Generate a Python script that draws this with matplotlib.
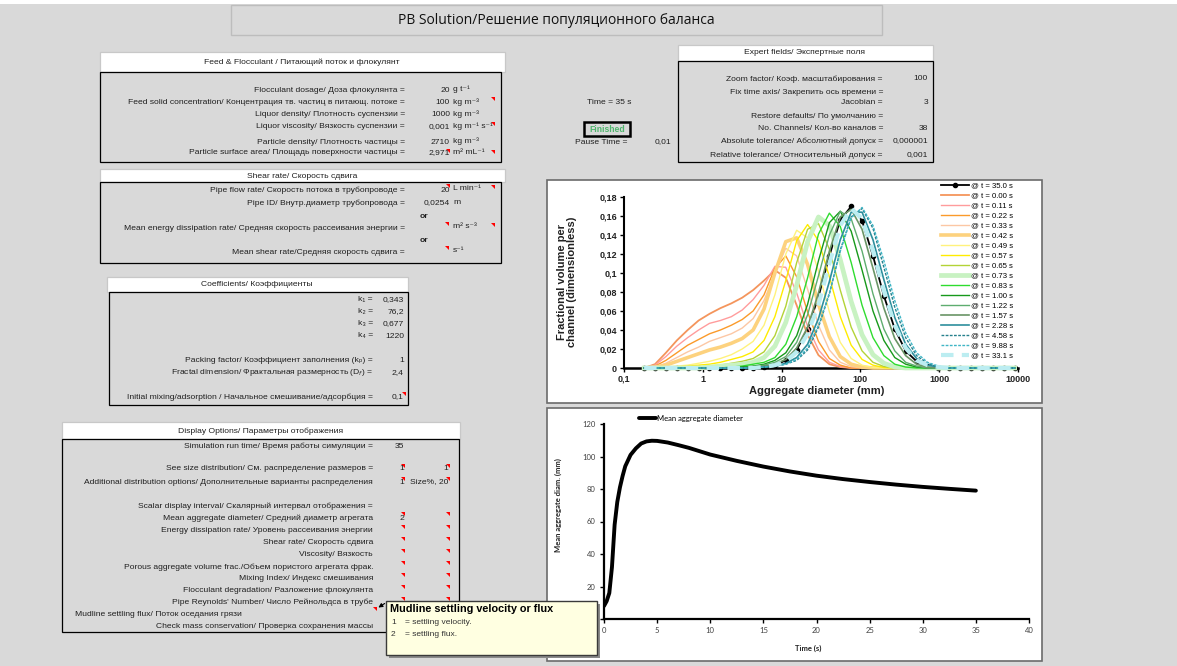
import matplotlib.pyplot as plt
from matplotlib.patches import Rectangle, Polygon
from matplotlib.ticker import NullLocator

W, H = 1177, 666

# ---------------- size distribution data ----------------
diam = [0.180, 0.2475, 0.340, 0.468, 0.643, 0.885, 1.216, 1.673, 2.30, 3.16,
        4.35, 5.98, 8.22, 11.30, 15.54, 21.37, 29.38, 40.40, 55.55, 76.38,
        105.0, 144.4, 198.6, 273.1, 375.4, 516.2, 709.8, 976, 1342, 1845,
        2537, 3488, 4797, 6595, 9069]

t_350 = [0, 0, 0, 0, 0, 0, 0, 0, 0, 0,
         0, 0.001, 0.003, 0.008, 0.019, 0.041, 0.075, 0.118, 0.156, 0.170,
         0.155, 0.118, 0.076, 0.041, 0.018, 0.007, 0.002, 0.0005, 0, 0,
         0, 0, 0, 0, 0]
t_000 = [0, 0.004, 0.016, 0.029, 0.040, 0.050, 0.057, 0.063, 0.068, 0.074,
         0.082, 0.092, 0.103, 0.095, 0.066, 0.035, 0.0135, 0.004, 0.001, 0,
         0, 0, 0, 0, 0, 0, 0, 0, 0, 0,
         0, 0, 0, 0, 0]
t_011 = [0, 0.003, 0.012, 0.023, 0.032, 0.040, 0.047, 0.050, 0.054, 0.061,
         0.072, 0.087, 0.107, 0.106, 0.079, 0.044, 0.019, 0.006, 0.0015, 0,
         0, 0, 0, 0, 0, 0, 0, 0, 0, 0,
         0, 0, 0, 0, 0]
t_022 = [0, 0.002, 0.008, 0.016, 0.024, 0.030, 0.036, 0.040, 0.045, 0.051,
         0.060, 0.077, 0.105, 0.118, 0.096, 0.059, 0.028, 0.010, 0.003, 0,
         0, 0, 0, 0, 0, 0, 0, 0, 0, 0,
         0, 0, 0, 0, 0]
t_033 = [0, 0.001, 0.005, 0.011, 0.017, 0.022, 0.028, 0.032, 0.036, 0.042,
         0.052, 0.071, 0.100, 0.126, 0.118, 0.083, 0.045, 0.019, 0.006, 0.0015,
         0, 0, 0, 0, 0, 0, 0, 0, 0, 0,
         0, 0, 0, 0, 0]
t_042 = [0, 0.001, 0.003, 0.007, 0.011, 0.015, 0.019, 0.022, 0.026, 0.031,
         0.040, 0.062, 0.100, 0.133, 0.137, 0.109, 0.067, 0.033, 0.012, 0.004,
         0.001, 0, 0, 0, 0, 0, 0, 0, 0, 0,
         0, 0, 0, 0, 0]
t_049 = [0, 0, 0.001, 0.002, 0.003, 0.005, 0.007, 0.010, 0.014, 0.020,
         0.028, 0.045, 0.077, 0.120, 0.145, 0.137, 0.102, 0.059, 0.027, 0.010,
         0.003, 0.0005, 0, 0, 0, 0, 0, 0, 0, 0,
         0, 0, 0, 0, 0]
t_057 = [0, 0, 0, 0.001, 0.002, 0.003, 0.004, 0.006, 0.009, 0.012,
         0.017, 0.029, 0.054, 0.092, 0.134, 0.151, 0.134, 0.096, 0.054, 0.024,
         0.009, 0.003, 0.0005, 0, 0, 0, 0, 0, 0, 0,
         0, 0, 0, 0, 0]
t_065 = [0, 0, 0, 0, 0, 0.001, 0.002, 0.003, 0.005, 0.007,
         0.010, 0.017, 0.034, 0.065, 0.111, 0.146, 0.152, 0.125, 0.082, 0.043,
         0.018, 0.006, 0.0016, 0, 0, 0, 0, 0, 0, 0,
         0, 0, 0, 0, 0]
t_073 = [0, 0, 0, 0, 0, 0, 0.001, 0.002, 0.003, 0.004,
         0.006, 0.011, 0.023, 0.048, 0.087, 0.133, 0.159, 0.150, 0.114, 0.070,
         0.035, 0.014, 0.005, 0.001, 0, 0, 0, 0, 0, 0,
         0, 0, 0, 0, 0]
t_083 = [0, 0, 0, 0, 0, 0, 0, 0, 0.001, 0.002,
         0.004, 0.006, 0.011, 0.025, 0.054, 0.095, 0.141, 0.163, 0.149, 0.111,
         0.066, 0.032, 0.013, 0.004, 0.001, 0, 0, 0, 0, 0,
         0, 0, 0, 0, 0]
t_100 = [0, 0, 0, 0, 0, 0, 0, 0, 0, 0.001,
         0.002, 0.004, 0.008, 0.016, 0.034, 0.067, 0.113, 0.153, 0.165, 0.144,
         0.103, 0.060, 0.029, 0.011, 0.004, 0.001, 0, 0, 0, 0,
         0, 0, 0, 0, 0]
t_122 = [0, 0, 0, 0, 0, 0, 0, 0, 0, 0,
         0.001, 0.003, 0.006, 0.012, 0.027, 0.056, 0.097, 0.140, 0.165, 0.157,
         0.123, 0.078, 0.041, 0.018, 0.006, 0.002, 0, 0, 0, 0,
         0, 0, 0, 0, 0]
t_157 = [0, 0, 0, 0, 0, 0, 0, 0, 0, 0,
         0.001, 0.002, 0.004, 0.009, 0.021, 0.043, 0.079, 0.123, 0.159, 0.167,
         0.146, 0.105, 0.063, 0.031, 0.013, 0.004, 0.001, 0, 0, 0,
         0, 0, 0, 0, 0]
t_228 = [0, 0, 0, 0, 0, 0, 0, 0, 0, 0,
         0, 0.001, 0.002, 0.005, 0.011, 0.025, 0.052, 0.091, 0.135, 0.164,
         0.164, 0.135, 0.093, 0.053, 0.025, 0.010, 0.003, 0.001, 0, 0,
         0, 0, 0, 0, 0]
t_458 = [0, 0, 0, 0, 0, 0, 0, 0, 0, 0,
         0, 0.001, 0.002, 0.004, 0.008, 0.019, 0.043, 0.078, 0.124, 0.159,
         0.168, 0.147, 0.106, 0.064, 0.032, 0.013, 0.005, 0.001, 0, 0,
         0, 0, 0, 0, 0]
t_988 = [0, 0, 0, 0, 0, 0, 0, 0, 0, 0,
         0, 0.001, 0.002, 0.004, 0.009, 0.021, 0.045, 0.079, 0.123, 0.158,
         0.169, 0.150, 0.113, 0.071, 0.037, 0.016, 0.006, 0.002, 0, 0,
         0, 0, 0, 0, 0]
t_331 = [0, 0, 0, 0, 0, 0, 0, 0, 0, 0,
         0, 0.001, 0.003, 0.007, 0.017, 0.036, 0.067, 0.110, 0.150, 0.168,
         0.157, 0.123, 0.081, 0.045, 0.021, 0.008, 0.003, 0.001, 0, 0,
         0, 0, 0, 0, 0]

psd_labels = ['@ t = 35.0 s', '@ t = 0.00 s', '@ t = 0.11 s', '@ t = 0.22 s',
              '@ t = 0.33 s', '@ t = 0.42 s', '@ t = 0.49 s', '@ t = 0.57 s',
              '@ t = 0.65 s', '@ t = 0.73 s', '@ t = 0.83 s', '@ t = 1.00 s',
              '@ t = 1.22 s', '@ t = 1.57 s', '@ t = 2.28 s', '@ t = 4.58 s',
              '@ t = 9.88 s', '@ t = 33.1 s']
psd_series = [t_350, t_000, t_011, t_022, t_033, t_042, t_049, t_057, t_065,
              t_073, t_083, t_100, t_122, t_157, t_228, t_458, t_988, t_331]

y1_ticks = [0, 0.02, 0.04, 0.06, 0.08, 0.1, 0.12, 0.14, 0.16, 0.18]
y1_ticklabels = ['0', '0,02', '0,04', '0,06', '0,08', '0,1', '0,12', '0,14', '0,16', '0,18']
x1_ticks = [0.1, 1, 10, 100, 1000, 10000]
x1_ticklabels = ['0,1', '1', '10', '100', '1000', '10000']

# ---------------- mean aggregate diameter vs time ----------------
time_s = [0, 0.25, 0.5, 0.75, 1.0, 1.25, 1.5, 1.75, 2.0, 2.5, 3.0, 3.5, 4.0, 4.5,
          5.0, 6, 7, 8, 10, 12.5, 15, 17.5, 20, 22.5, 25, 27.5, 30, 32.5, 35]
mean_diam = [8, 11, 16, 32, 58, 72, 81, 88, 94, 101, 105, 108, 109.3, 109.7,
             109.6, 108.6, 107, 105.3, 101.2, 97.3, 93.8, 90.8, 88.2, 86.1,
             84.3, 82.7, 81.3, 80.1, 79.0]

# ---------------- spreadsheet text ----------------
feed_labels = ['Flocculant dosage/ Доза флокулянта =',
               'Feed solid concentration/ Концентрация тв. частиц в питающ. потоке =',
               'Liquor density/ Плотность суспензии =',
               'Liquor viscosity/ Вязкость суспензии =',
               'Particle density/ Плотность частицы =',
               'Particle surface area/ Площадь поверхности частицы =']
feed_values = ['20', '100', '1000', '0,001', '2710', '2,971']
feed_units = ['g t⁻¹', 'kg m⁻³', 'kg m⁻³', 'kg m⁻¹ s⁻¹', 'kg m⁻³', 'm² mL⁻¹']

shear_labels = ['Pipe flow rate/ Скорость потока в трубопроводе =',
                'Pipe ID/ Внутр.диаметр трубопровода =',
                'Mean energy dissipation rate/ Средняя скорость рассеивания энергии =',
                'Mean shear rate/Средняя скорость сдвига =']
shear_values = ['20', '0,0254', '', '']
shear_units = ['L min⁻¹', 'm', 'm² s⁻³', 's⁻¹']

coef_labels = ['k₁ =', 'k₂ =', 'k₃ =', 'k₄ =',
               'Packing factor/ Коэффициент заполнения (kₚ) =',
               'Fractal dimension/ Фрактальная размерность (D$_f$) =',
               'Initial mixing/adsorption / Начальное смешивание/адсорбция =']
coef_values = ['0,343', '76,2', '0,677', '1220', '1', '2,4', '0,1']

disp_labels = ['Simulation run time/ Время работы симуляции =',
               'See size distribution/ См. распределение размеров =',
               'Additional distribution options/ Дополнительные варианты распределения',
               'Scalar display interval/ Скалярный интервал отображения =',
               'Mean aggregate diameter/ Средний диаметр агрегата',
               'Energy dissipation rate/ Уровень рассеивания энергии',
               'Shear rate/ Скорость сдвига',
               'Viscosity/ Вязкость',
               'Porous aggregate volume frac./Объем пористого агрегата фрак.',
               'Mixing Index/ Индекс смешивания',
               'Flocculant degradation/ Разложение флокулянта',
               "Pipe Reynolds' Number/ Число Рейнольдса в трубе",
               'Mudline settling flux/ Поток оседания грязи',
               'Check mass conservation/ Проверка сохранения массы']
disp_val1 = ['35', '1', '1', '', '2', '', '', '', '', '', '', '', '', '']
disp_val2 = ['', '1', 'Size%, 20', '', '', '', '', '', '', '', '', '', '', '']

expert_labels = ['Zoom factor/ Коэф. масштабирования =',
                 'Fix time axis/ Закрепить ось времени =',
                 'Jacobian =',
                 'Restore defaults/ По умолчанию =',
                 'No. Channels/ Кол-во каналов =',
                 'Absolute tolerance/ Абсолютный допуск =',
                 'Relative tolerance/ Относительный допуск =']
expert_values = ['100', '', '3', '', '38', '0,000001', '0,001']

# ---------------- layout (pixel rows) ----------------
feed_y = [90, 103, 115, 127, 142, 153]
shear_y = [190, 203, 228, 252]
coef_y = [300, 312, 324, 336, 360, 373, 397]
disp_y = [446, 469, 482, 506, 518, 531, 542, 554, 567, 578, 591, 602, 615, 627]
expert_y = [79, 92, 103, 116, 129, 141, 155]

SS = ['Liberation Sans', 'DejaVu Sans']
TXT = '#1f1f1f'
plt.rcParams['font.family'] = SS

fig = plt.figure(figsize=(W / 100, H / 100), dpi=100)
fig.patch.set_facecolor('#d9d9d9')

bg = fig.add_axes([0, 0, 1, 1])
bg.set_xlim(0, W)
bg.set_ylim(H, 0)
bg.axis('off')


def box(x, y, w, h, fc='none', ec='black', lw=0.9, ax=None):
    (ax or bg).add_patch(Rectangle((x, y), w, h, facecolor=fc, edgecolor=ec, lw=lw))


def cell(x, y, s, ha='right', size=6.1, ax=None, **kw):
    kw.setdefault('color', TXT)
    (ax or bg).text(x, y, s, ha=ha, va='center', fontsize=size, family=SS, **kw)


def flag(x, y):
    # red comment marker in a cell corner
    bg.add_patch(Polygon([(x - 4, y), (x, y), (x, y + 4)], closed=True,
                         facecolor='red', edgecolor='none'))


# top strip + title bar
bg.add_patch(Rectangle((0, 0), W, 4, facecolor='white', edgecolor='none'))
box(231, 5, 651, 30, fc='#d9d9d9', ec='#bdbdbd', lw=1)
bg.text(556, 20, 'PB Solution/Решение популяционного баланса', ha='center', va='center',
        fontsize=10, family=['Open Sans', 'DejaVu Sans'], color='#111')

# Feed & Flocculant
box(100, 52, 405, 20, fc='white', ec='#c8c8c8')
cell(302, 62, 'Feed & Flocculant / Питающий поток и флокулянт', ha='center')
box(100, 72, 401, 90)
for lab, val, unit, y in zip(feed_labels, feed_values, feed_units, feed_y):
    cell(405, y, lab)
    cell(450, y, val)
    cell(453, y - 1, unit, ha='left')
for x, y in [(495, 97), (495, 122), (450, 149), (495, 150)]:
    flag(x, y)

# Shear rate
box(100, 169, 405, 13, fc='white', ec='#c8c8c8')
cell(302, 176, 'Shear rate/ Скорость сдвига', ha='center')
box(100, 182, 401, 81)
for lab, val, unit, y in zip(shear_labels, shear_values, shear_units, shear_y):
    cell(405, y, lab)
    cell(450, y, val)
    cell(453, y - 1, unit, ha='left')
cell(428, 216, 'or', weight='bold')
cell(428, 240, 'or', weight='bold')
for x, y in [(450, 184), (495, 185), (449, 222), (495, 223), (449, 246)]:
    flag(x, y)

# Coefficients
box(107, 277, 301, 15, fc='white', ec='#c8c8c8')
cell(257, 285, 'Coefficients/ Коэффициенты', ha='center')
box(109, 292, 299, 113)
for lab, val, y in zip(coef_labels, coef_values, coef_y):
    cell(373, y, lab)
    cell(404, y, val)
flag(406, 392)

# Display options
box(62, 422, 398, 17, fc='white', ec='#c8c8c8')
cell(261, 431, 'Display Options/ Параметры отображения', ha='center')
box(62, 439, 397, 193)
for lab, v1, v2, y in zip(disp_labels, disp_val1, disp_val2, disp_y):
    if lab.startswith('Mudline'):
        cell(75, y, lab, ha='left')
    else:
        cell(373, y, lab)
    cell(404, y, v1)
    cell(448, y, v2)
for y in [464, 477, 512, 525, 537, 549, 561, 573, 585, 597]:
    flag(405, y)
    flag(450, y)
flag(377, 607)

# Expert fields
box(678, 45, 255, 16, fc='white', ec='#c8c8c8')
cell(805, 53, 'Expert fields/ Экспертные поля', ha='center')
box(678, 61, 255, 101)
for lab, val, y in zip(expert_labels, expert_values, expert_y):
    cell(883, y, lab)
    cell(928, y, val)

cell(587, 103, 'Time = 35 s', ha='left')
box(584, 122, 46, 14, fc='#d9d9d9', ec='black', lw=1.8)
cell(607, 129, 'Finished', ha='center', color='#4fb56c', weight='bold', size=6.2)
cell(575, 142, 'Pause Time =', ha='left')
cell(671, 142, '0,01')

# chart frames
box(547, 180, 495, 223, fc='white', ec='#6b6b6b', lw=1.2)
box(547, 408, 495, 253, fc='white', ec='#6b6b6b', lw=1.2)

# ---------------- chart 1: size distributions ----------------
ax1 = fig.add_axes([624 / W, 1 - 368 / H, (1018 - 624) / W, (368 - 197) / H])
ax1.patch.set_alpha(0)
styles = [
    dict(color='black', lw=1.3, marker='o', ms=3),
    dict(color='#f4955c', lw=1.3),
    dict(color='#ff9c9c', lw=1.0),
    dict(color='#fb9a2a', lw=1.0),
    dict(color='#fcc7a4', lw=1.0),
    dict(color='#fdd27e', lw=2.6),
    dict(color='#fff27c', lw=1.0),
    dict(color='#ffec00', lw=1.0),
    dict(color='#b3d336', lw=1.0),
    dict(color='#c8f2c2', lw=3.4),
    dict(color='#2fdc2f', lw=1.0),
    dict(color='#17991b', lw=1.0),
    dict(color='#5ead6f', lw=1.0),
    dict(color='#6a9566', lw=1.2),
    dict(color='#2d8f9d', lw=1.2),
    dict(color='#25808c', lw=1.0, ls=(0, (2, 1))),
    dict(color='#40b6c6', lw=1.0, ls=(0, (2, 1))),
    dict(color='#bcedf1', lw=3.0, ls=(0, (3, 2))),
]
for k, (vals, lab, st) in enumerate(zip(psd_series, psd_labels, styles)):
    ax1.plot(diam, vals, label=lab, clip_on=False, zorder=2 + k,
             solid_joinstyle='round', dash_joinstyle='round', **st)

ax1.set_xscale('log')
ax1.set_xlim(0.1, 10000)
ax1.set_ylim(0, 0.18)
ax1.xaxis.set_minor_locator(NullLocator())
ax1.set_xticks(x1_ticks)
ax1.set_xticklabels(x1_ticklabels)
ax1.set_yticks(y1_ticks)
ax1.set_yticklabels(y1_ticklabels)
for s in ['top', 'right']:
    ax1.spines[s].set_visible(False)
ax1.spines['left'].set_linewidth(1.5)
ax1.spines['bottom'].set_linewidth(1.8)
ax1.tick_params(direction='out', length=3, width=1, labelsize=6.5, pad=2)
for t in ax1.get_xticklabels() + ax1.get_yticklabels():
    t.set_fontweight('bold')
    t.set_color('#222')

fig.legend(*ax1.get_legend_handles_labels(), loc='upper left',
           bbox_to_anchor=(941 / W, 1 - 182 / H), frameon=False, fontsize=5.6,
           labelspacing=0.33, handlelength=3.6, handletextpad=0.25,
           borderpad=0, borderaxespad=0, numpoints=1)

bg.text(567, 282, 'Fractional volume per\nchannel (dimensionless)', rotation=90,
        ha='center', va='center', fontsize=8, weight='bold', color='#222',
        linespacing=1.1)
bg.text(817, 391, 'Aggregate diameter (mm)', ha='center', va='center',
        fontsize=8, weight='bold', color='#222')

# ---------------- chart 2: mean aggregate diameter ----------------
CAL = ['Lato', 'DejaVu Sans']
ax2 = fig.add_axes([604 / W, 1 - 619 / H, (1029 - 604) / W, (619 - 424) / H])
ax2.patch.set_alpha(0)
ax2.plot(time_s, mean_diam, color='black', lw=2.8, label='Mean aggregate diameter',
         solid_capstyle='round')
ax2.set_xlim(0, 40)
ax2.set_ylim(0, 120)
ax2.set_xticks(range(0, 41, 5))
ax2.set_yticks(range(0, 121, 20))
for s in ['top', 'right']:
    ax2.spines[s].set_visible(False)
ax2.spines['left'].set_linewidth(1.6)
ax2.spines['bottom'].set_linewidth(1.6)
ax2.tick_params(direction='out', length=3, width=1, labelsize=5.5, pad=3,
                labelcolor='#404040')
for t in ax2.get_xticklabels() + ax2.get_yticklabels():
    t.set_family(CAL)
fig.legend(*ax2.get_legend_handles_labels(), loc='upper left',
           bbox_to_anchor=(639 / W, 1 - 415 / H), frameon=False,
           prop=dict(family=CAL, size=5.5), handlelength=2.2, handletextpad=0.1,
           borderpad=0, borderaxespad=0)
bg.text(558, 505, 'Mean aggregate diam. (mm)', rotation=90, ha='center', va='center',
        fontsize=5.5, weight='bold', family=CAL, color='#222')
bg.text(808, 648, 'Time (s)', ha='center', va='center', fontsize=5.5,
        weight='bold', family=CAL, color='#222')

# ---------------- comment pop-up (on top of everything) ----------------
top = fig.add_axes([0, 0, 1, 1])
top.set_xlim(0, W)
top.set_ylim(H, 0)
top.axis('off')
top.add_patch(Rectangle((389, 604), 211, 54, facecolor='#8a8a8a', edgecolor='none'))
box(386, 601, 211, 54, fc='#ffffe1', ec='#3a3a3a', lw=1, ax=top)
top.annotate('', xy=(376, 609), xytext=(387, 602),
             arrowprops=dict(arrowstyle='-|>', color='black', lw=0.8, mutation_scale=6))
cell(390, 609, 'Mudline settling velocity or flux', ha='left', size=7.8,
     weight='bold', ax=top, color='black')
cell(391, 622, '1', ha='left', ax=top, color='#333', size=6)
cell(405, 622, '= settling velocity.', ha='left', ax=top, color='#333', size=6)
cell(391, 634, '2', ha='left', ax=top, color='#333', size=6)
cell(405, 634, '= settling flux.', ha='left', ax=top, color='#333', size=6)

fig.savefig('out.png', dpi=100)
